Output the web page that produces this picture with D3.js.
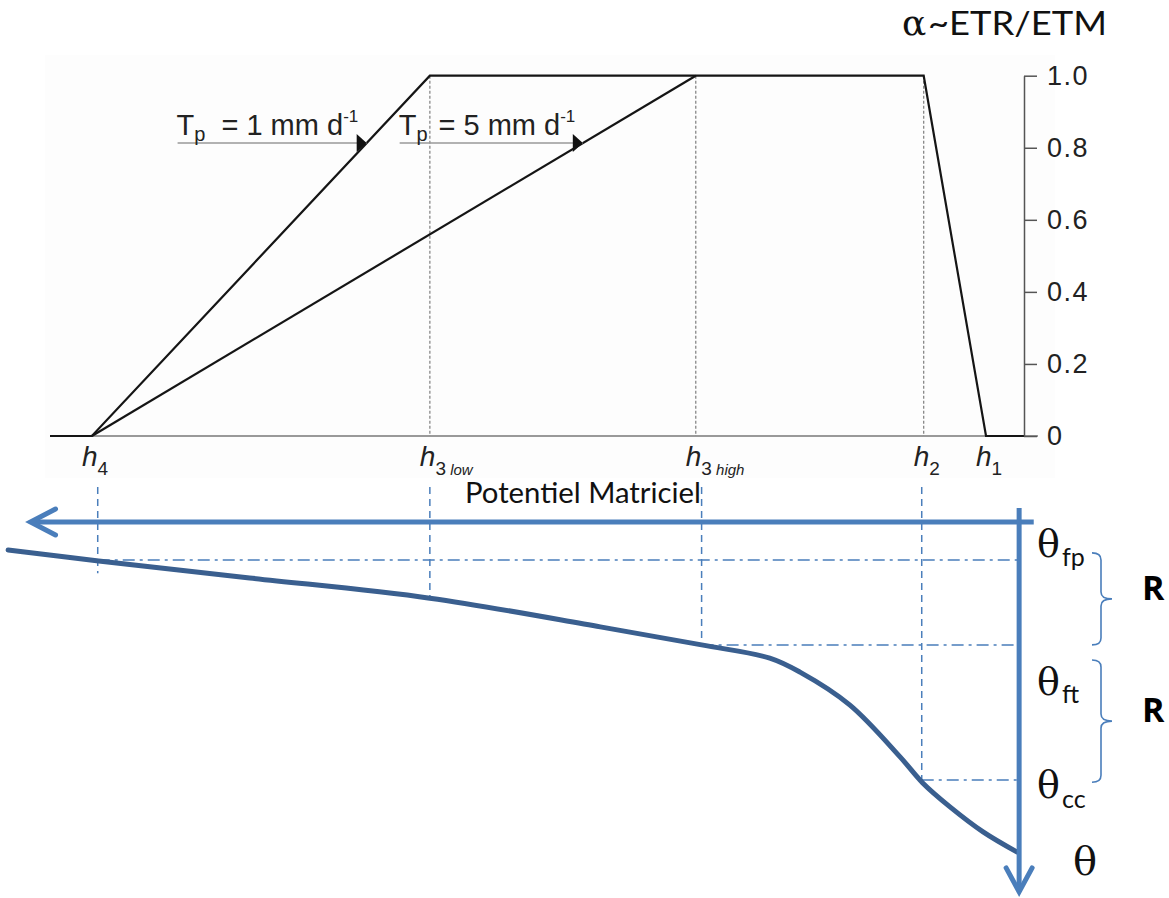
<!DOCTYPE html>
<html>
<head>
<meta charset="utf-8">
<script src="https://cdn.jsdelivr.net/npm/d3@7"></script>
<style>
  body { margin: 0; background: #fff; }
  svg { display: block; }
</style>
</head>
<body>
<div id="chart"></div>
<script>
// ---- data ----
// pressure head positions, relative units (0 = left end of top chart, 100 = right axis)
var hNames = ["4", "3", "3", "2", "1"];
var hSubs = ["", " low", " high", "", ""];
var hPos = [4.3, 39.0, 66.3, 89.7, 96.1];

// alpha = ETR/ETM reduction function
var tp1H = [0, 4.3, 39.0, 89.7, 96.1, 100];
var tp1A = [0, 0, 1, 1, 0, 0];
var tp5H = [4.3, 66.3];
var tp5A = [0, 1];
var tpLabels = ["1", "5"];
var tpLabelStartH = [13.1, 35.9];
var tpLabelAlpha = 0.813;

var alphaTicks = [0, 0.2, 0.4, 0.6, 0.8, 1.0];
var alphaTickLabels = ["0", "0.2", "0.4", "0.6", "0.8", "1.0"];

// retention curve (bottom), theta in relative units (0 = h axis, grows downward)
var curveH = [-4.3, 5.0, 20.5, 39.0, 56.5, 66.9, 73.9, 77.0, 82.1, 87.3, 89.6, 92.4, 95.8, 99.3];
var curveTheta = [7.6, 10.6, 15.2, 20.7, 28.5, 33.4, 37.0, 40.8, 49.7, 63.9, 70.9, 77.4, 84.2, 89.7];

// drop lines from h points down to the curve
var dropH = [4.9, 39.0, 66.9, 89.5];
var dropTheta = [13.9, 21.2, 33.4, 70.1];

// theta levels
var thetaNames = ["fp", "ft", "cc"];
var thetaVals = [10.3, 33.4, 70.1];
var thetaFromH = [4.9, 66.9, 89.5];

// reserve braces
var braceFrom = [8.4, 37.5];
var braceTo = [33.4, 70.7];
var braceLabels = ["R", "R"];

var hAxisExtent = [101, -2];
var thetaAxisExtent = [-3.8, 100.5];
var thetaAxisH = 99.5;

// ---- setup ----
var svgWidth = 1169;
var svgHeight = 898;

var svg = d3.select("#chart")
  .append("svg")
  .attr("width", svgWidth)
  .attr("height", svgHeight);

var blue = "#4a7ebb";
var darkBlue = "#3a5f8f";
var sans = "'Liberation Sans', Arial, sans-serif";
var cal = "Lato, 'Open Sans', sans-serif";
var serif = "'DejaVu Serif', 'Liberation Serif', serif";

var xScale = d3.scaleLinear().domain([0, 100]).range([50, 1024]);
var yAlpha = d3.scaleLinear().domain([0, 1]).range([436, 75.7]);
var yTheta = d3.scaleLinear().domain([0, 100]).range([522, 890]);

// faint backdrop of the top figure
svg.append("rect")
  .attr("x", 45).attr("y", 55)
  .attr("width", 1010).attr("height", 423)
  .attr("fill", "#fdfdfd");

var topG = svg.append("g");

// baseline
topG.append("line")
  .attr("x1", xScale(tp1H[1])).attr("x2", xScale(100) + 14)
  .attr("y1", yAlpha(0)).attr("y2", yAlpha(0))
  .attr("stroke", "#777").attr("stroke-width", 1.6);

// gray dashed verticals
topG.selectAll(".vdash")
  .data([1, 2, 3])
  .enter().append("line")
  .attr("x1", i => xScale(hPos[i])).attr("x2", i => xScale(hPos[i]))
  .attr("y1", yAlpha(1)).attr("y2", yAlpha(0))
  .attr("stroke", "#888").attr("stroke-width", 1.3)
  .attr("stroke-dasharray", "3,2");

// reduction functions
var lineA = d3.line().x(d => xScale(d[0])).y(d => yAlpha(d[1]));
topG.append("path")
  .attr("d", lineA(d3.zip(tp1H, tp1A)))
  .attr("fill", "none").attr("stroke", "#151515").attr("stroke-width", 2.2);
topG.append("path")
  .attr("d", lineA(d3.zip(tp5H, tp5A)))
  .attr("fill", "none").attr("stroke", "#151515").attr("stroke-width", 2.2);

// right axis
var rightAxis = d3.axisRight(yAlpha)
  .tickValues(alphaTicks)
  .tickFormat((d, i) => alphaTickLabels[i])
  .tickSize(13).tickSizeOuter(0).tickPadding(10);
var ax = topG.append("g")
  .attr("transform", `translate(${xScale(100)},0)`)
  .call(rightAxis);
ax.select(".domain").attr("stroke", "#555").attr("stroke-width", 1.5);
ax.selectAll(".tick line").attr("stroke", "#555").attr("stroke-width", 1.5);
ax.selectAll(".tick text")
  .attr("fill", "#222")
  .style("font-family", sans).style("font-size", "27px")
  .style("letter-spacing", "1.5px");

// h labels
hNames.forEach(function (n, i) {
  var t = topG.append("text")
    .attr("x", xScale(hPos[i]) - 10)
    .attr("y", 466)
    .attr("fill", "#222")
    .style("font-family", sans);
  t.append("tspan").text("h").style("font-style", "italic").style("font-size", "28px");
  t.append("tspan").text(n).attr("dy", 9).style("font-size", "19px");
  if (hSubs[i]) {
    t.append("tspan").text(hSubs[i]).style("font-style", "italic").style("font-size", "15px");
  }
});

// Tp labels with arrows
var tpLines = [[tp1H, tp1A], [tp5H, tp5A]];
tpLabels.forEach(function (lab, i) {
  // where the underline meets the rising limb
  var hh = tpLines[i][0], aa = tpLines[i][1];
  var k = i === 0 ? 1 : 0;
  var hi = hh[k] + (hh[k + 1] - hh[k]) * (tpLabelAlpha - aa[k]) / (aa[k + 1] - aa[k]);
  var xi = xScale(hi), yi = yAlpha(tpLabelAlpha);
  var x0 = xScale(tpLabelStartH[i]);
  topG.append("line")
    .attr("x1", x0).attr("x2", xi)
    .attr("y1", yi).attr("y2", yi)
    .attr("stroke", "#999").attr("stroke-width", 1.5);
  topG.append("path")
    .attr("d", `M${xi - 10},${yi - 9}L${xi - 10},${yi + 9}L${xi},${yi}Z`)
    .attr("fill", "#111");
  var t = topG.append("text")
    .attr("x", x0 - 1).attr("y", yi - 8)
    .attr("fill", "#222")
    .style("font-family", sans).style("font-size", "29px");
  t.append("tspan").text("T");
  t.append("tspan").text("p").attr("dy", 6).style("font-size", "20px");
  t.append("tspan").text("= " + lab + " mm d").attr("dy", -6).attr("dx", i === 0 ? 16 : 11);
  t.append("tspan").text("-1").attr("dy", -13).style("font-size", "17px");
});

// y title
var yt = svg.append("text").attr("x", 902).attr("y", 35).attr("fill", "#111");
yt.append("tspan").text("\u03b1").style("font-family", serif).style("font-size", "36px");
svg.append("text")
  .attr("x", 928).attr("y", 35).attr("fill", "#111")
  .attr("textLength", 179).attr("lengthAdjust", "spacingAndGlyphs")
  .style("font-family", cal).style("font-size", "32px")
  .text("~ETR/ETM");

// ---- bottom part ----
var bottom = svg.append("g");

// drop lines
bottom.selectAll(".drop")
  .data(dropH)
  .enter().append("line")
  .attr("x1", d => xScale(d)).attr("x2", d => xScale(d))
  .attr("y1", 487).attr("y2", (d, i) => yTheta(dropTheta[i]))
  .attr("stroke", blue).attr("stroke-width", 1.5)
  .attr("stroke-dasharray", "7,5");

// theta level lines
bottom.selectAll(".lvl")
  .data(thetaVals)
  .enter().append("line")
  .attr("x1", (d, i) => xScale(thetaFromH[i])).attr("x2", xScale(thetaAxisH))
  .attr("y1", d => yTheta(d)).attr("y2", d => yTheta(d))
  .attr("stroke", blue).attr("stroke-width", 1.5)
  .attr("stroke-dasharray", "12,5,3,5");

// retention curve
var curveLine = d3.line()
  .x(d => xScale(d[0])).y(d => yTheta(d[1]))
  .curve(d3.curveCatmullRom.alpha(0.5));
bottom.append("path")
  .attr("d", curveLine(d3.zip(curveH, curveTheta)))
  .attr("fill", "none").attr("stroke", darkBlue).attr("stroke-width", 5)
  .attr("stroke-linecap", "round");

// h axis arrow (pointing left)
var hx0 = xScale(hAxisExtent[0]), hx1 = xScale(hAxisExtent[1]), hy = yTheta(0);
bottom.append("line")
  .attr("x1", hx0).attr("x2", hx1 + 3).attr("y1", hy).attr("y2", hy)
  .attr("stroke", blue).attr("stroke-width", 5);
bottom.append("path")
  .attr("d", `M${hx1 + 25},${hy - 13}L${hx1},${hy}L${hx1 + 25},${hy + 13}`)
  .attr("fill", "none").attr("stroke", blue).attr("stroke-width", 5)
  .attr("stroke-linecap", "round").attr("stroke-linejoin", "miter");

// theta axis arrow (pointing down)
var tx = xScale(thetaAxisH), ty0 = yTheta(thetaAxisExtent[0]), ty1 = yTheta(thetaAxisExtent[1]);
bottom.append("line")
  .attr("x1", tx).attr("x2", tx).attr("y1", ty0).attr("y2", ty1 - 3)
  .attr("stroke", blue).attr("stroke-width", 5);
bottom.append("path")
  .attr("d", `M${tx - 13},${ty1 - 24}L${tx},${ty1}L${tx + 13},${ty1 - 24}`)
  .attr("fill", "none").attr("stroke", blue).attr("stroke-width", 5)
  .attr("stroke-linecap", "round");

// axis title
bottom.append("text")
  .attr("x", 465).attr("y", 503)
  .attr("fill", "#111")
  .attr("textLength", 236).attr("lengthAdjust", "spacingAndGlyphs")
  .style("font-family", cal).style("font-size", "28px")
  .text("Potentiel Matriciel");

// theta labels
var thetaBase = [557, 695, 798];
var subBase = [566, 703, 808];
thetaNames.forEach(function (n, i) {
  bottom.append("text")
    .attr("x", 1037).attr("y", thetaBase[i])
    .attr("fill", "#111")
    .style("font-family", serif).style("font-size", "38px")
    .text("\u03b8");
  bottom.append("text")
    .attr("x", 1062).attr("y", subBase[i])
    .attr("fill", "#111")
    .style("font-family", cal).style("font-size", "25px")
    .text(n);
});
bottom.append("text")
  .attr("x", 1073).attr("y", 875)
  .attr("fill", "#111")
  .style("font-family", serif).style("font-size", "40px")
  .text("\u03b8");

// braces
braceFrom.forEach(function (f, i) {
  var y0 = yTheta(f), y1 = yTheta(braceTo[i]), ym = (y0 + y1) / 2;
  var xa = 1092, xs = 1101, xt = 1112, r = 7;
  var d = `M${xa},${y0}Q${xs},${y0} ${xs},${y0 + r}L${xs},${ym - r}Q${xs},${ym} ${xt},${ym}` +
    `Q${xs},${ym} ${xs},${ym + r}L${xs},${y1 - r}Q${xs},${y1} ${xa},${y1}`;
  bottom.append("path")
    .attr("d", d)
    .attr("fill", "none").attr("stroke", blue).attr("stroke-width", 1.6);
  bottom.append("text")
    .attr("x", 1142).attr("y", ym + 1)
    .attr("fill", "#000")
    .style("font-family", "'Open Sans', Lato, sans-serif").style("font-size", "34px").style("font-weight", "bold")
    .text(braceLabels[i]);
});
</script>
</body>
</html>
